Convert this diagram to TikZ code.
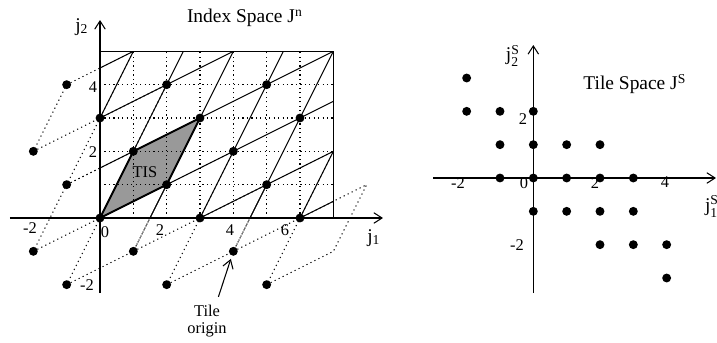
\documentclass[tikz,border=0pt]{standalone}
\usepackage{amsmath}
\usepackage{fontspec}
\setmainfont{Liberation Serif}
\usetikzlibrary{arrows.meta}
\begin{document}
\begin{tikzpicture}[x=0.5cm,y=0.5cm,line width=0.45pt,
        >={Straight Barb[length=3.5pt,width=4.5pt]},
        dots/.style={dash pattern=on 0.5pt off 1.4pt},
        small/.style={font=\fontsize{7}{7.4}\selectfont},
        big/.style={font=\fontsize{8.3}{10}\selectfont}]
    \useasboundingbox (-3,-3.72) rectangle (18.51,6.54);

    % index space
    \fill[gray!80] (0,0) -- (2,1) -- (3,3) -- (1,2) -- cycle;
    \foreach \x in {1,...,6} \draw[dots] (\x,0) -- (\x,5);
    \foreach \y in {1,...,4} \draw[dots] (0,\y) -- (7,\y);
    \foreach \p in {(-2,2),(-1,1),(-2,-1),(-1,-2),(1,-1),(2,-2),(4,-1),(5,-2)}
        \draw[dots] \p -- ++(2,1) -- ++(1,2) -- ++(-2,-1) -- cycle;
    \begin{scope}
        \clip (0,0) rectangle (7,5);
        \foreach \a in {-1,...,4} \draw (1.5*\a,0) -- ++(5,10);
        \foreach \b in {-2,...,3} \draw (0,1.5*\b) -- ++(14,7);
    \end{scope}
    \draw (0,0) rectangle (7,5);
    \draw[line width=0.8pt] (0,0) -- (2,1) -- (3,3) -- (1,2) -- cycle;
    \draw[->] (-2.7,0) -- (8.49,0);
    \draw[->] (0,-2.25) -- (0,5.94);

    % tile space
    \draw[->] (10,1.2) -- (18.48,1.2);
    \draw[->] (13,-2.25) -- (13,5.19);

    % tile origins, in both spaces
    \foreach \a/\b in {0/0,1/0,0/1,1/1,-1/2,0/2,2/-1,2/1,2/0,3/0,3/-1,4/-2,
                       -2/3,-2/2,-1/1,-1/0,1/-1,0/-1,3/-2,2/-2,4/-3} {
        \fill (2*\a+\b,\a+2*\b) circle (1.9pt);
        \fill (13+\a,1.2+\b) circle (1.9pt);
    }

    \node[big] (idxttl) at (4.35,6.0) {Index Space J\textsuperscript{n}};
    \node[big] (j1) at (8.22,-0.6) {j\textsubscript{1}};
    \node[big] (j2) at (-0.54,5.73) {j\textsubscript{2}};
    \node[small] (tis) at (1.35,1.38) {TIS};
    \node[small] (xm2) at (-2.1,-0.3) {-2};
    \node[small] (x0) at (0.15,-0.42) {0};
    \node[small] (x2) at (1.8,-0.36) {2};
    \node[small] (x4) at (3.9,-0.36) {4};
    \node[small] (x6) at (5.55,-0.36) {6};
    \node[small] (y4) at (-0.21,3.93) {4};
    \node[small] (y2) at (-0.21,1.98) {2};
    \node[small] (ym2) at (-0.39,-2.01) {-2};
    \node[small,align=center] (tileorg) at (3.21,-3.1) {Tile\\origin};
    \coordinate (org) at (4,-1);
    \draw[->,shorten >=3.4pt] (tileorg.65) -- (org);

    \node[big] (tilettl) at (16.05,4.02) {Tile Space J\textsuperscript{S}};
    \node[big,anchor=west] (js1) at (17.9,0.35) {j$^{\text{S}}_{\text{1}}$};
    \node[big] (js2) at (12.39,4.86) {j$^{\text{S}}_{\text{2}}$};
    \node[small] (sxm2) at (10.74,1.05) {-2};
    \node[small] (sx0) at (12.72,1.05) {0};
    \node[small] (sx2) at (14.85,1.05) {2};
    \node[small] (sx4) at (16.95,1.08) {4};
    \node[small] (sy2) at (12.69,2.97) {2};
    \node[small] (sym2) at (12.51,-0.81) {-2};
\end{tikzpicture}
\end{document}
